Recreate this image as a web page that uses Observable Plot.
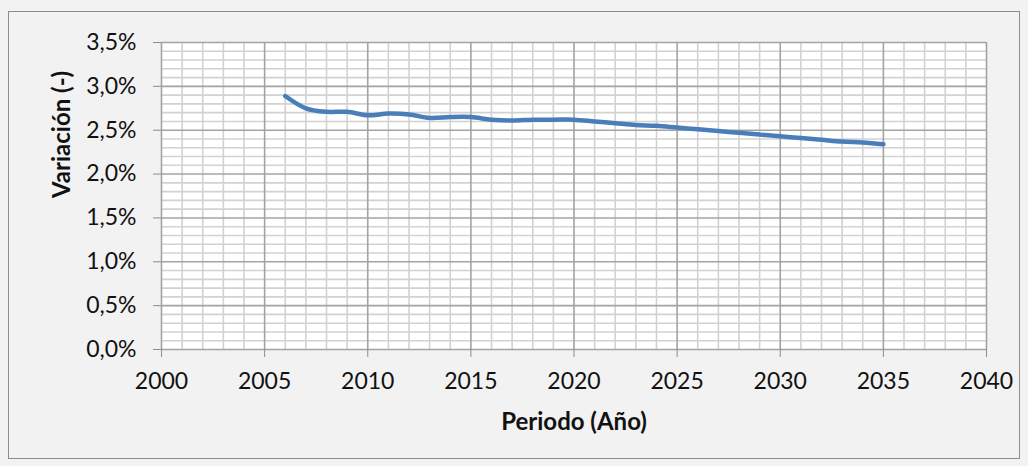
<!DOCTYPE html>
<html>
<head>
<meta charset="utf-8">
<script src="https://cdn.jsdelivr.net/npm/d3@7"></script>
<script src="https://cdn.jsdelivr.net/npm/@observablehq/plot@0.6"></script>
<style>
  html, body { margin: 0; padding: 0; background: #f2f2f2; }
  #wrap { position: relative; width: 1028px; height: 466px; overflow: hidden; }
  #border { position: absolute; left: 8px; top: 11px; width: 1010px; height: 446px; border: 1px solid #8c8c8c; }
  #chart { position: absolute; left: 0; top: 0; }
</style>
</head>
<body>
<div id="wrap"><div id="border"></div><div id="chart"></div></div>
<script>
const years = [2006, 2007, 2008, 2009, 2010, 2011, 2012, 2013, 2014, 2015, 2016, 2017, 2018, 2019, 2020,
               2021, 2022, 2023, 2024, 2025, 2026, 2027, 2028, 2029, 2030, 2031, 2032, 2033, 2034, 2035];
const variacion = [0.0289, 0.0275, 0.0271, 0.0271, 0.0267, 0.0269, 0.0268, 0.0264, 0.0265, 0.0265, 0.0262, 0.0261, 0.0262, 0.0262, 0.0262,
                   0.0260, 0.0258, 0.0256, 0.0255, 0.0253, 0.0251, 0.0249, 0.0247, 0.0245, 0.0243, 0.0241, 0.0239, 0.0237, 0.0236, 0.0234];
const xTicks = [2000, 2005, 2010, 2015, 2020, 2025, 2030, 2035, 2040];
const yTicks = [0, 0.005, 0.010, 0.015, 0.020, 0.025, 0.030, 0.035];
const xMinor = d3.range(2000, 2041, 1);
const yMinor = d3.range(0, 36, 1).map(d => d / 1000);
const xTitle = "Periodo (Año)";
const yTitle = "Variación (-)";

const data = years.map((y, i) => ({year: y, value: variacion[i]}));
const fmt = d3.formatLocale({decimal: ",", thousands: ".", grouping: [3], currency: ["", "€"]}).format(".1%");
const font = "Lato, 'Open Sans', sans-serif";

const chart = Plot.plot({
  width: 1028,
  height: 466,
  marginLeft: 161,
  marginRight: 42,
  marginTop: 42,
  marginBottom: 117,
  style: {background: "transparent", fontFamily: font, fontSize: "23px", color: "#111"},
  x: {domain: [2000, 2040], axis: null},
  y: {domain: [0, 0.035], axis: null},
  marks: [
    Plot.frame({fill: "white", stroke: null}),
    Plot.ruleX(xMinor.filter(d => d % 5 !== 0), {stroke: "#d2d2d2", strokeWidth: 1.6}),
    Plot.ruleY(yMinor.filter((d, i) => i % 5 !== 0), {stroke: "#d2d2d2", strokeWidth: 1.6}),
    Plot.ruleX(xTicks, {stroke: "#a3a3a3", strokeWidth: 1.6}),
    Plot.ruleY(yTicks, {stroke: "#a3a3a3", strokeWidth: 1.6}),
    Plot.axisX({ticks: xTicks, tickSize: 8, tickPadding: 15, tickFormat: d => String(d), label: null, stroke: "#8c8c8c", fill: "#111", fontSize: 23}),
    Plot.axisY({ticks: yTicks, tickSize: 8, tickPadding: 17, tickFormat: fmt, label: null, stroke: "#8c8c8c", fill: "#111", fontSize: 23}),
    Plot.line(data, {x: "year", y: "value", stroke: "#4a7ebb", strokeWidth: 4.5, curve: "catmull-rom", strokeLinecap: "round"}),
    Plot.text([xTitle], {frameAnchor: "bottom", dy: 80, text: d => d, fontWeight: "bold", fontSize: 24, fill: "#111"}),
    Plot.text([yTitle], {frameAnchor: "left", dx: -99, dy: 2, rotate: -90, text: d => d, fontWeight: "bold", fontSize: 24, fill: "#111"})
  ]
});
document.getElementById("chart").appendChild(chart);
</script>
</body>
</html>
